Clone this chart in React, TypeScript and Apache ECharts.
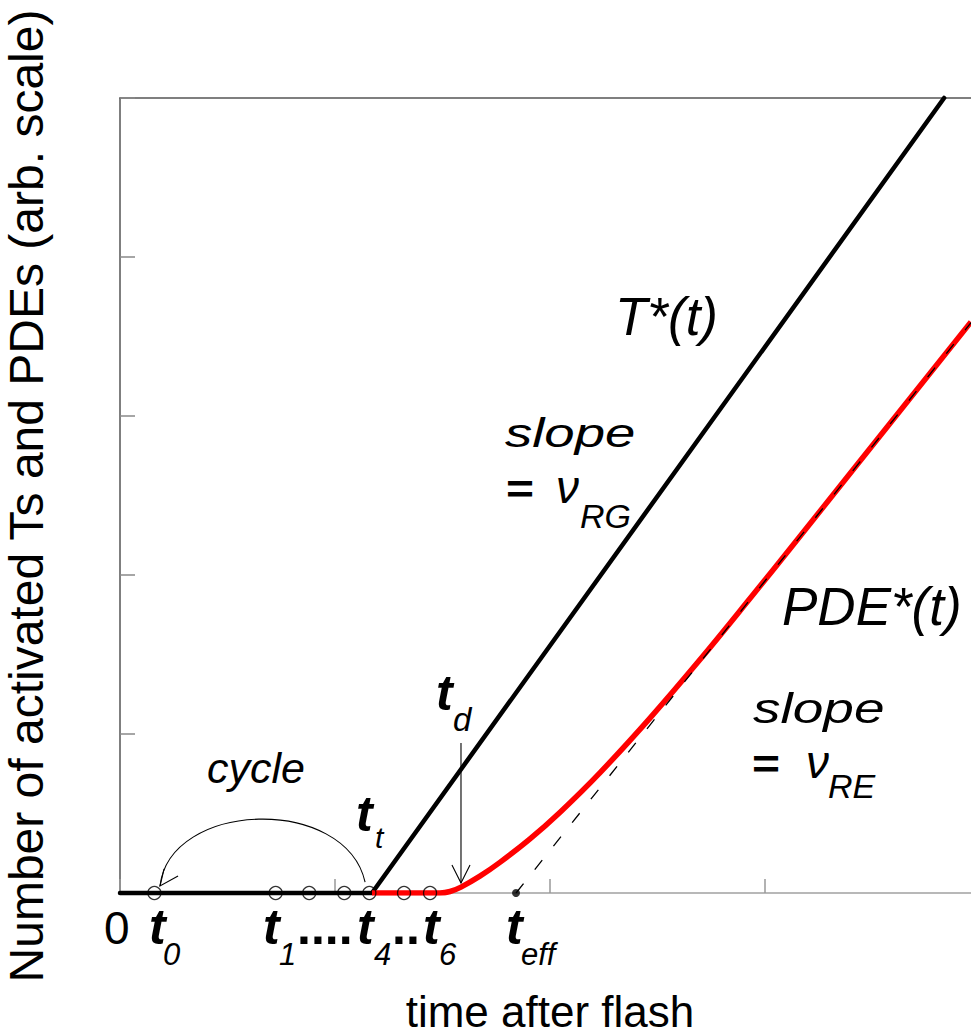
import React, { useEffect, useRef } from "react";
import * as echarts from "echarts";

// ---- data (arbitrary units; x tick interval = 1, y tick interval = 1) ----
const X_MIN = 0;
const X_MAX = 4;
const Y_MIN = 0;
const Y_MAX = 5;

// T*(t): flat until t_t, then linear rise with slope nu_RG
const tStar: number[][] = [
  [0, 0],
  [1.172, 0],
  [3.833, 5],
];

// PDE*(t): delayed rise approaching the asymptote
const pdeStar: number[][] = [
  [1.172, 0],
  [1.442, 0],
  [1.488, 0],
  [1.535, 0.0094],
  [1.586, 0.0371],
  [1.674, 0.1057],
  [1.767, 0.1925],
  [1.907, 0.3403],
  [2.047, 0.5082],
  [2.233, 0.7572],
  [2.465, 1.1],
  [2.698, 1.4679],
  [2.93, 1.8516],
  [3.163, 2.244],
  [3.958, 3.5918],
];

// asymptote of PDE*(t) starting at t_eff
const asymptote: number[][] = [
  [1.842, 0],
  [3.958, 3.587],
];

// cycle times t0, t1..t4, t5, t6
const cyclePoints: number[][] = [
  [0.16, 0],
  [0.724, 0],
  [0.88, 0],
  [1.043, 0],
  [1.16, 0],
  [1.321, 0],
  [1.442, 0],
];

const tEff: number[][] = [[1.842, 0]];

// annotation arrows (data coordinates)
const cycleArc = { start: [1.14, 0.069], cp1: [1.047, 0.616], cp2: [0.233, 0.585], end: [0.186, 0.044] };
const cycleHead = [[0.27, 0.107], [0.186, 0.044], [0.205, 0.151]];
const tdArrow = { top: [1.586, 0.943], tip: [1.586, 0.063] };
const tdHead = [[1.544, 0.176], [1.586, 0.063], [1.628, 0.176]];

const FONT = "'Liberation Sans', Arial, Helvetica, sans-serif";

function txt(
  x: number,
  baseline: number,
  text: string,
  fs: number,
  opts: { italic?: boolean; bold?: boolean; scaleX?: number; align?: string; lineHeight?: number } = {}
) {
  const align = opts.align || "left";
  const style: any = {
    text,
    fontSize: fs,
    fontFamily: FONT,
    fontStyle: opts.italic ? "italic" : "normal",
    fontWeight: opts.bold ? "bold" : "normal",
    fill: "#000",
    align,
    verticalAlign: "middle",
    textAlign: align,
    textVerticalAlign: "middle",
  };
  if (opts.lineHeight) style.lineHeight = opts.lineHeight;
  return {
    type: "text",
    x,
    y: baseline - 0.35 * fs,
    scaleX: opts.scaleX || 1,
    silent: true,
    style,
  };
}

function tLabel(x: number, subX: number, baseline: number, subBaseline: number, sub: string, subFs: number) {
  return [
    txt(x, baseline, "t", 50, { italic: true, bold: true }),
    txt(subX, subBaseline, sub, subFs, { italic: true }),
  ];
}

export default function App() {
  const ref = useRef<HTMLDivElement>(null);

  useEffect(() => {
    if (!ref.current) return;
    const chart = echarts.init(ref.current, undefined, { renderer: "svg" });

    const graphics: any[] = [
      // curve labels
      txt(615, 335, "T*(t)", 53, { italic: true }),
      txt(782, 625, "PDE*(t)", 53, { italic: true }),
      // slope = nu_RG
      txt(505, 447, "slope", 41, { italic: true, scaleX: 1.33 }),
      txt(506, 503, "=", 40, { bold: true, scaleX: 1.2 }),
      txt(556, 503, "ν", 46, { italic: true }),
      txt(580, 528, "RG", 34, { italic: true }),
      // slope = nu_RE
      txt(753, 723, "slope", 42, { italic: true, scaleX: 1.31 }),
      txt(752, 778, "=", 40, { bold: true, scaleX: 1.2 }),
      txt(806, 778, "ν", 46, { italic: true }),
      txt(828, 798, "RE", 34, { italic: true }),
      // cycle
      txt(207, 783, "cycle", 43, { italic: true }),
      // t_t and t_d
      ...tLabel(356, 375, 831, 848, "t", 30),
      ...tLabel(436, 453, 710, 731, "d", 33),
      // x tick-like labels
      txt(104, 944, "0", 46),
      ...tLabel(149, 163, 944, 965, "0", 31),
      ...tLabel(263, 279, 944, 965, "1", 31),
      txt(297, 944, "....", 50, { bold: true }),
      ...tLabel(357, 374, 944, 965, "4", 31),
      txt(392, 944, "..", 50, { bold: true }),
      ...tLabel(423, 439, 944, 965, "6", 31),
      ...tLabel(506, 521, 944, 965, "eff", 31),
      // axis titles
      txt(550, 1027, "time after flash", 44, { align: "center", lineHeight: 34 }),
      {
        type: "text",
        x: 26,
        y: 496,
        rotation: Math.PI / 2,
        silent: true,
        style: {
          text: "Number of activated Ts and PDEs (arb. scale)",
          fontSize: 48,
          fontFamily: FONT,
          fill: "#000",
          align: "center",
          verticalAlign: "middle",
          textAlign: "center",
          textVerticalAlign: "middle",
        },
      },
    ];

    chart.setOption({
      animation: false,
      backgroundColor: "#fff",
      grid: { left: 120, right: 0, top: 98, bottom: 143, containLabel: false },
      xAxis: [
        {
          type: "value",
          min: X_MIN,
          max: X_MAX,
          interval: 1,
          position: "bottom",
          axisLine: { show: true, onZero: false, lineStyle: { color: "#a0a0a0", width: 1.5 } },
          axisTick: { show: true, inside: true, length: 14, lineStyle: { color: "#999", width: 1.5 } },
          axisLabel: { show: false },
          splitLine: { show: false },
        },
        {
          type: "value",
          min: X_MIN,
          max: X_MAX,
          position: "top",
          axisLine: { show: true, onZero: false, lineStyle: { color: "#555", width: 1.5 } },
          axisTick: { show: false },
          axisLabel: { show: false },
          splitLine: { show: false },
        },
      ],
      yAxis: {
        type: "value",
        min: Y_MIN,
        max: Y_MAX,
        interval: 1,
        axisLine: { show: true, onZero: false, lineStyle: { color: "#555", width: 1.5 } },
        axisTick: { show: true, inside: true, length: 15, lineStyle: { color: "#888", width: 1.5 } },
        axisLabel: { show: false },
        splitLine: { show: false },
      },
      graphic: graphics,
      series: [
        {
          type: "line",
          data: tStar,
          showSymbol: false,
          silent: true,
          clip: false,
          lineStyle: { color: "#000", width: 4.5, cap: "round", join: "round" },
          z: 3,
        },
        {
          type: "line",
          data: pdeStar,
          smooth: 0.4,
          showSymbol: false,
          silent: true,
          lineStyle: { color: "#ff0000", width: 5.5, join: "round" },
          z: 4,
        },
        {
          type: "line",
          data: asymptote,
          showSymbol: false,
          silent: true,
          lineStyle: { color: "#000", width: 1.3, type: [12, 18] },
          z: 5,
        },
        {
          type: "scatter",
          data: cyclePoints,
          symbol: "circle",
          symbolSize: 13,
          silent: true,
          itemStyle: { color: "rgba(0,0,0,0)", borderColor: "#000", borderWidth: 1.3 },
          z: 6,
        },
        {
          type: "scatter",
          data: tEff,
          symbol: "circle",
          symbolSize: 8,
          silent: true,
          itemStyle: { color: "#000" },
          z: 6,
        },
        {
          type: "custom",
          data: [[0, 0]],
          silent: true,
          clip: false,
          z: 7,
          renderItem: (_params: any, api: any) => {
            const c = (p: number[]) => api.coord(p);
            const s = c(cycleArc.start);
            const c1 = c(cycleArc.cp1);
            const c2 = c(cycleArc.cp2);
            const e = c(cycleArc.end);
            const top = c(tdArrow.top);
            const tip = c(tdArrow.tip);
            const lineStyle = { stroke: "#000", fill: "none", lineWidth: 1.1 };
            return {
              type: "group",
              children: [
                {
                  type: "bezierCurve",
                  shape: {
                    x1: s[0], y1: s[1],
                    cpx1: c1[0], cpy1: c1[1],
                    cpx2: c2[0], cpy2: c2[1],
                    x2: e[0], y2: e[1],
                  },
                  style: lineStyle,
                },
                { type: "polyline", shape: { points: cycleHead.map(c) }, style: lineStyle },
                {
                  type: "line",
                  shape: { x1: top[0], y1: top[1], x2: tip[0], y2: tip[1] },
                  style: lineStyle,
                },
                { type: "polyline", shape: { points: tdHead.map(c) }, style: lineStyle },
              ],
            };
          },
        },
      ],
    });

    return () => chart.dispose();
  }, []);

  return (
    <div style={{ position: "absolute", left: 0, top: 0, width: 971, height: 1036, overflow: "hidden" }}>
      <div ref={ref} style={{ position: "absolute", left: 0, top: 0, width: 980, height: 1036 }} />
    </div>
  );
}
